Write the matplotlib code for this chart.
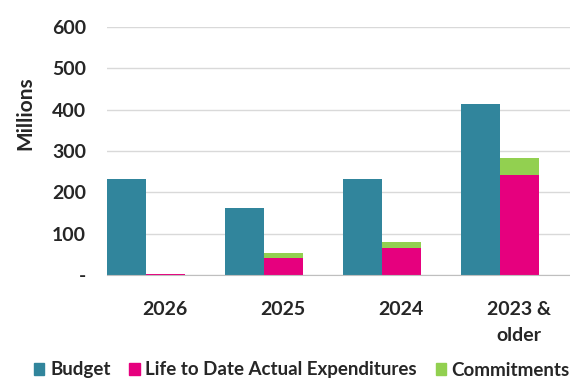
import numpy as np
import matplotlib
matplotlib.use("Agg")
from matplotlib import pyplot as plt
from matplotlib.patches import Patch

plt.rcParams['font.family'] = ['Lato', 'DejaVu Sans']
plt.rcParams['font.weight'] = 'bold'

categories = ['2026', '2025', '2024', '2023 &\nolder']
budget = [233, 163, 233, 413]
expenditures = [2, 42, 66, 243]
commitments = [1, 11, 15, 39]
y_ticks = [0, 100, 200, 300, 400, 500, 600]
y_tick_labels = ['-', '100', '200', '300', '400', '500', '600']

c_budget = '#31859C'
c_exp = '#E6007E'
c_com = '#92D050'

fig = plt.figure(figsize=(5.7, 3.81), dpi=100)
ax = fig.add_axes([107 / 570, 1 - 275 / 381, 1 - 107 / 570, (275 - 27) / 381])

x = np.arange(len(categories))
w = 0.33
ax.bar(x - w / 2, budget, w, color=c_budget, zorder=3)
ax.bar(x + w / 2, expenditures, w, color=c_exp, zorder=3)
ax.bar(x + w / 2, commitments, w, bottom=expenditures, color=c_com, zorder=3)

ax.set_xlim(-0.33, 3.593)
ax.set_ylim(0, 600)
ax.set_yticks(y_ticks)
ax.set_yticklabels(y_tick_labels, fontsize=14, fontweight='bold', color='#262626')
ax.set_xticks(x + 0.16)
ax.set_xticklabels(categories, fontsize=14, fontweight='bold', color='#262626',
                   linespacing=1.6)
ax.tick_params(axis='y', length=0, pad=15)
ax.tick_params(axis='x', length=0, pad=19)
ax.yaxis.grid(True, color='#D9D9D9', linewidth=1, zorder=0)
for s in ['top', 'right', 'left']:
    ax.spines[s].set_visible(False)
ax.spines['bottom'].set_color('#BFBFBF')
ax.spines['bottom'].set_zorder(4)

fig.text(25 / 570, 1 - 113 / 381, 'Millions', rotation=90, ha='center', va='center',
         fontsize=15, fontweight='bold', color='#262626')

handles = [Patch(color=c_budget, label='Budget'),
           Patch(color=c_exp, label='Life to Date Actual Expenditures'),
           Patch(color=c_com, label='Commitments')]
fig.legend(handles=handles, loc='center', bbox_to_anchor=(302 / 570, 1 - 370 / 381),
           ncol=3, frameon=False, fontsize=13.5, handlelength=0.55, handleheight=0.6,
           handletextpad=0.3, columnspacing=1.0, borderpad=0, labelcolor='#262626')

fig.savefig('out.png', dpi=100)
